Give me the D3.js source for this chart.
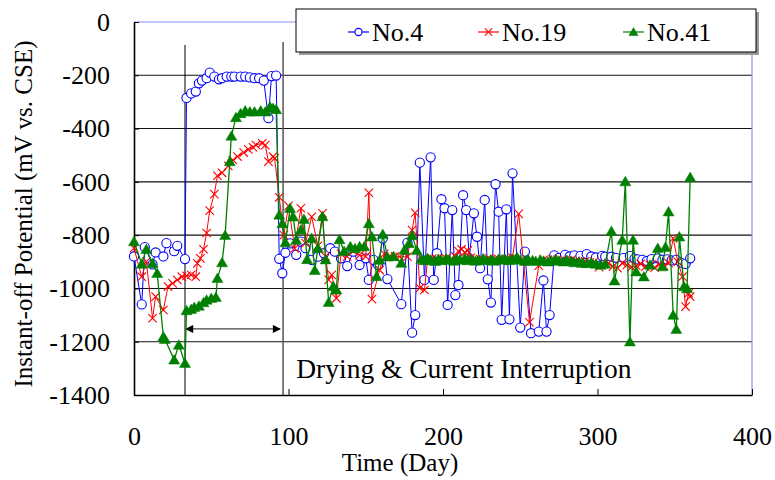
<!DOCTYPE html>
<html>
<head>
<meta charset="utf-8">
<script src="https://cdn.jsdelivr.net/npm/d3@7/dist/d3.min.js"></script>
<style>
  body { margin: 0; background: #fff; }
  text { font-family: "Liberation Serif", "Times New Roman", serif; fill: #000; }
</style>
</head>
<body>
<div id="chart"></div>
<script>
// series: [day, potential mV]
var no4 = [[0,-880],[5,-1060],[7,-845],[12,-910],[14,-865],[19,-880],[21,-830],[26,-860],[28,-840],[33,-890],
  [34,-285],[37,-268],[40,-261],[42,-230],[44,-220],[47,-211],[49,-190],[52,-205],[55,-215],[57,-211],[60,-205],
  [63,-205],[65,-205],[69,-205],[72,-205],[75,-208],[78,-211],[81,-211],[84,-220],[87,-361],[89,-203],[92,-201],
  [94,-889],[96,-943],[98,-866],[101,-831],[105,-874],[108,-824],[111,-849],[115,-893],[119,-881],[123,-868],
  [127,-849],[130,-862],[134,-887],[138,-916],[142,-862],[146,-912],[150,-887],[152,-968],[155,-893],[158,-912],
  [161,-812],[164,-965],[173,-1059],[177,-828],[180,-1166],[182,-1100],[185,-528],[188,-968],[192,-508],[194,-968],
  [196,-868],[199,-665],[201,-699],[203,-1062],[206,-706],[208,-1025],[210,-987],[213,-650],[215,-706],[217,-887],
  [220,-718],[222,-806],[224,-924],[227,-668],[229,-966],[231,-1053],[234,-609],[236,-712],[238,-1118],[241,-703],
  [243,-1116],[245,-568],[250,-1147],[253,-862],[257,-1168],[262,-1162],[265,-970],[267,-1162],[269,-1100],[272,-876],
  [275,-885],[279,-874],[282,-880],[285,-876],[289,-878],[293,-871],[296,-880],[299,-884],[303,-878],[305,-881],
  [309,-881],[312,-885],[317,-885],[321,-878],[324,-888],[326,-891],[329,-893],[332,-897],[335,-890],[339,-887],
  [342,-893],[345,-891],[348,-895],[351,-893],[354,-903],[357,-908],[360,-887]];

var no19 = [[0,-849],[5,-956],[8,-899],[12,-1112],[14,-1031],[19,-1081],[22,-993],[25,-981],[28,-968],[31,-956],
  [34,-953],[37,-949],[40,-956],[41,-906],[43,-887],[45,-853],[47,-792],[49,-708],[52,-646],[54,-577],[57,-566],
  [61,-540],[64,-518],[67,-505],[71,-490],[74,-478],[77,-470],[79,-462],[83,-455],[85,-462],[87,-524],[90,-505],
  [91,-512],[94,-658],[97,-800],[100,-690],[104,-850],[108,-699],[111,-830],[115,-731],[119,-840],[122,-718],
  [124,-880],[126,-968],[128,-949],[131,-1037],[134,-870],[138,-880],[142,-860],[146,-875],[150,-880],[152,-641],
  [154,-1040],[159,-931],[162,-870],[165,-881],[169,-880],[172,-881],[177,-881],[180,-781],[182,-716],[185,-999],
  [188,-1006],[190,-893],[193,-888],[196,-890],[199,-893],[202,-887],[205,-890],[208,-880],[210,-860],[212,-853],
  [214,-865],[216,-858],[218,-885],[221,-892],[224,-890],[227,-895],[230,-888],[233,-893],[236,-890],[239,-895],
  [242,-888],[245,-885],[249,-720],[256,-1127],[262,-915],[265,-893],[268,-897],[271,-890],[274,-893],[277,-895],
  [280,-898],[283,-893],[286,-897],[289,-900],[292,-898],[295,-903],[298,-900],[301,-920],[304,-910],[307,-905],
  [310,-918],[313,-924],[316,-905],[319,-912],[322,-920],[325,-915],[328,-908],[331,-918],[334,-912],[337,-922],
  [340,-910],[343,-915],[346,-905],[349,-812],[352,-900],[355,-956],[357,-1068],[359,-1018],[360,-1031]];

var no41 = [[0,-824],[5,-908],[8,-853],[12,-906],[15,-943],[19,-1181],[20,-1191],[26,-1268],[29,-1212],[33,-1281],
  [34,-1083],[37,-1078],[39,-1071],[42,-1066],[45,-1053],[47,-1043],[50,-1037],[53,-1033],[54,-962],[57,-903],
  [59,-800],[62,-524],[63,-428],[66,-358],[69,-343],[72,-333],[75,-337],[78,-337],[82,-333],[85,-337],[88,-318],
  [90,-324],[92,-328],[94,-724],[96,-756],[98,-828],[101,-699],[103,-731],[105,-818],[108,-780],[110,-740],
  [112,-891],[115,-812],[117,-932],[119,-849],[122,-730],[124,-892],[126,-1052],[129,-992],[131,-1005],[133,-816],
  [136,-860],[140,-843],[143,-850],[146,-843],[149,-843],[152,-756],[154,-806],[157,-955],[159,-893],[161,-797],
  [164,-881],[168,-880],[173,-905],[175,-856],[178,-831],[180,-801],[183,-857],[186,-890],[188,-895],[190,-887],
  [192,-893],[195,-898],[197,-890],[199,-895],[202,-888],[204,-893],[207,-897],[209,-890],[211,-893],[214,-888],
  [216,-895],[218,-890],[221,-897],[223,-893],[226,-888],[228,-895],[231,-892],[233,-897],[236,-890],[238,-893],
  [240,-888],[243,-895],[245,-890],[248,-884],[250,-893],[253,-898],[255,-890],[258,-895],[260,-898],[263,-893],
  [265,-897],[268,-900],[270,-895],[273,-892],[275,-897],[278,-900],[280,-895],[283,-898],[285,-903],[288,-900],
  [290,-905],[293,-906],[296,-903],[299,-908],[302,-912],[305,-908],[309,-785],[311,-971],[316,-818],[318,-599],
  [321,-1200],[323,-818],[325,-937],[330,-956],[334,-912],[339,-849],[342,-918],[344,-845],[346,-712],[349,-1100],
  [351,-1153],[353,-806],[356,-993],[358,-1000],[360,-583]];

var seriesNames = ["No.4", "No.19", "No.41"];
var yTicks = [0, -200, -400, -600, -800, -1000, -1200, -1400];
var xTicks = [0, 100, 200, 300, 400];
var markDays = [33, 96.5];   // start / end of drying period

var width = 775, height = 480;
var margin = {left: 134, top: 22, right: 23, bottom: 85};

var svg = d3.select("#chart").append("svg")
  .attr("width", width)
  .attr("height", height);

var xScale = d3.scaleLinear().domain([0, 400]).range([margin.left, width - margin.right]);
var yScale = d3.scaleLinear().domain([-1400, 0]).range([height - margin.bottom, margin.top]);

// grid
svg.selectAll("line.grid").data(yTicks.filter(function(d) { return d > -1400 && d < 0; }))
  .enter().append("line")
    .attr("class", "grid")
    .attr("x1", xScale(0)).attr("x2", xScale(400))
    .attr("y1", function(d) { return yScale(d); })
    .attr("y2", function(d) { return yScale(d); })
    .attr("stroke", "#111").attr("stroke-width", 1.1);

// top / right frame
svg.append("line")
  .attr("x1", xScale(0)).attr("x2", xScale(400))
  .attr("y1", yScale(0)).attr("y2", yScale(0))
  .attr("stroke", "#8c8cff").attr("stroke-width", 1.2);
svg.append("line")
  .attr("x1", xScale(400)).attr("x2", xScale(400))
  .attr("y1", yScale(0)).attr("y2", yScale(-1400))
  .attr("stroke", "#8c8cff").attr("stroke-width", 1.2);

// drying period markers
svg.append("line")
  .attr("x1", xScale(markDays[0])).attr("x2", xScale(markDays[0]))
  .attr("y1", yScale(-86)).attr("y2", yScale(-1400))
  .attr("stroke", "#000").attr("stroke-width", 1);
svg.append("line")
  .attr("x1", xScale(markDays[1])).attr("x2", xScale(markDays[1]))
  .attr("y1", yScale(-75)).attr("y2", yScale(-1400))
  .attr("stroke", "#555").attr("stroke-width", 1.5);

var defs = svg.append("defs");
defs.append("marker").attr("id", "arr")
  .attr("viewBox", "0 0 10 10").attr("refX", 9).attr("refY", 5)
  .attr("markerWidth", 9).attr("markerHeight", 8).attr("markerUnits", "userSpaceOnUse")
  .attr("orient", "auto-start-reverse")
  .append("path").attr("d", "M0,0L10,5L0,10z").attr("fill", "#000");

svg.append("line")
  .attr("x1", xScale(markDays[0]) + 1).attr("x2", xScale(markDays[1]) - 3)
  .attr("y1", yScale(-1152)).attr("y2", yScale(-1152))
  .attr("stroke", "#444").attr("stroke-width", 1.2)
  .attr("marker-start", "url(#arr)").attr("marker-end", "url(#arr)");

svg.append("text")
  .attr("x", xScale(105)).attr("y", 378)
  .attr("font-size", 27.5)
  .text("Drying & Current Interruption");

// axes
var yAxis = d3.axisLeft(yScale).tickValues(yTicks)
  .tickFormat(function(d) { return String(d); })
  .tickSizeInner(-5).tickSizeOuter(0).tickPadding(24);
var xAxis = d3.axisBottom(xScale).tickValues(xTicks)
  .tickFormat(function(d) { return String(d); })
  .tickSizeInner(-6).tickSizeOuter(0).tickPadding(32);

var gy = svg.append("g").attr("transform", "translate(" + margin.left + ",0)").call(yAxis);
var gx = svg.append("g").attr("transform", "translate(0," + yScale(-1400) + ")").call(xAxis);
[gx, gy].forEach(function(g) {
  g.selectAll("text").attr("font-size", 26).attr("font-family", "Liberation Serif");
  g.selectAll(".domain").attr("stroke", "#000").attr("stroke-width", 1.6);
  g.selectAll(".tick line").attr("stroke", "#000");
});

svg.append("text")
  .attr("transform", "translate(32,214) rotate(-90)")
  .attr("text-anchor", "middle")
  .attr("font-size", 25)
  .text("Instant-off Potential (mV vs. CSE)");

svg.append("text")
  .attr("x", 400).attr("y", 471)
  .attr("text-anchor", "middle")
  .attr("font-size", 25)
  .text("Time (Day)");

// series
var line = d3.line()
  .x(function(d) { return xScale(d[0]); })
  .y(function(d) { return yScale(d[1]); });

var colors = ["#0000ff", "#ff0000", "#008000"];

function drawMarker(sel, i, s) {
  if (i == 0) {
    sel.append("circle").attr("r", s).attr("fill", "#fff")
      .attr("stroke", colors[0]).attr("stroke-width", 1.1);
  } else if (i == 1) {
    sel.append("path").attr("d", "M" + (-s) + "," + (-s) + "L" + s + "," + s + "M" + (-s) + "," + s + "L" + s + "," + (-s))
      .attr("stroke", colors[1]).attr("stroke-width", 1.1).attr("fill", "none");
  } else {
    sel.append("path").attr("d", "M0," + (-s * 1.05) + "L" + (s * 1.1) + "," + (s * 0.85) + "L" + (-s * 1.1) + "," + (s * 0.85) + "Z")
      .attr("fill", colors[2]).attr("stroke", colors[2]).attr("stroke-width", 0.5);
  }
}

[no4, no19, no41].forEach(function(data, i) {
  var g = svg.append("g");
  g.append("path").datum(data)
    .attr("d", line)
    .attr("fill", "none")
    .attr("stroke", colors[i])
    .attr("stroke-width", i == 2 ? 1.3 : 1);
  g.selectAll("g.pt").data(data).enter().append("g")
    .attr("transform", function(d) { return "translate(" + xScale(d[0]) + "," + yScale(d[1]) + ")"; })
    .each(function() { drawMarker(d3.select(this), i, i == 0 ? 4.6 : (i == 1 ? 4.2 : 5)); });
});

// legend
var lg = svg.append("g");
lg.append("rect").attr("x", 299).attr("y", 12).attr("width", 460).attr("height", 43).attr("fill", "#999");
lg.append("rect").attr("x", 296).attr("y", 9).attr("width", 460).attr("height", 43)
  .attr("fill", "#fff").attr("stroke", "#000").attr("stroke-width", 1);
var legendX = [348, 478, 623];
seriesNames.forEach(function(name, i) {
  lg.append("line").attr("x1", legendX[i]).attr("x2", legendX[i] + 21)
    .attr("y1", 32).attr("y2", 32).attr("stroke", colors[i]).attr("stroke-width", 1.2);
  var m = lg.append("g").attr("transform", "translate(" + (legendX[i] + 10.5) + ",32)");
  drawMarker(m, i, i == 0 ? 3.6 : (i == 1 ? 3.6 : 4.2));
  lg.append("text").attr("x", legendX[i] + 24).attr("y", 41)
    .attr("font-size", 26).text(name);
});
</script>
</body>
</html>
